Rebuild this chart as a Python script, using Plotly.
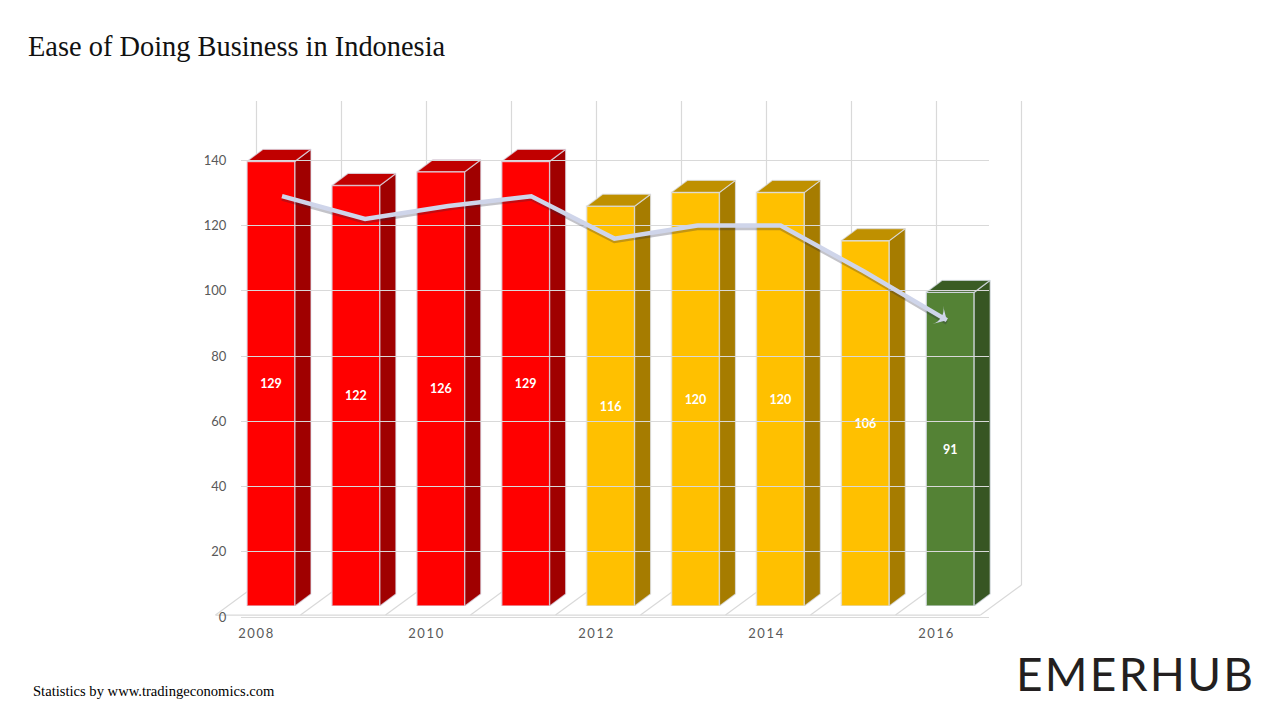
import plotly.graph_objects as go

years = [2008, 2009, 2010, 2011, 2012, 2013, 2014, 2015, 2016]
ranks = [129, 122, 126, 129, 116, 120, 120, 106, 91]
groups = ["red", "red", "red", "red", "amber", "amber", "amber", "amber", "green"]
y_ticks = [0, 20, 40, 60, 80, 100, 120, 140]
x_label_years = [2008, 2010, 2012, 2014, 2016]

FRONT = {"red": "#FF0000", "amber": "#FFC000", "green": "#548235"}
TOP = {"red": "#C00000", "amber": "#BF9000", "green": "#3A5C24"}
SIDE = {"red": "#A00000", "amber": "#A67C00", "green": "#375623"}
EDGE = "rgba(222,226,238,0.72)"
GRID = "#D9D9D9"
TICK = "#595959"
LINE = "#CFD5EA"


def hx(a, b):
    return [a / 1280, b / 1280]


def vy(top, bottom):
    return [1 - bottom / 720, 1 - top / 720]


WALL_STEP, WALL_X0 = 85.0, 256.5
BAR_STEP, BAR_X0 = 84.9, 271.0
LINE_STEP, LINE_X0 = 83.1, 282.0
AX_SCALE = 3.262       # px per unit on the printed axis
BAR_SCALE = 3.447      # px per unit on the bars' front plane
BAR_WIDTH = 48 / BAR_STEP
DEPTH_X = 16 / BAR_STEP
DEPTH_Y = 12 / BAR_SCALE
FLOOR = 32 / AX_SCALE
SKEW = 41 / WALL_STEP
WALL_TOP = (617 - 101) / AX_SCALE

fig = go.Figure()

# back wall and floor
wall_x, wall_y = [], []
for yr in range(years[0], years[-1] + 2):
    wall_x += [yr, yr, None, yr - SKEW, yr, None]
    wall_y += [WALL_TOP, FLOOR, None, 0.6, FLOOR, None]
wall_x += [years[0] - SKEW, years[-1] + 1 - SKEW]
wall_y += [0.6, 0.6]
fig.add_trace(go.Scatter(x=wall_x, y=wall_y, mode="lines", xaxis="x", yaxis="y",
                         line=dict(color=GRID, width=1.2), hoverinfo="skip", showlegend=False))

# bars
fig.add_trace(go.Bar(
    x=years, y=ranks, width=BAR_WIDTH, xaxis="x2", yaxis="y2",
    marker=dict(color=[FRONT[g] for g in groups], line=dict(color=EDGE, width=1.6)),
    text=[str(v) for v in ranks], textposition="inside", insidetextanchor="middle", textangle=0,
    insidetextfont=dict(family="Lato", size=12.5, color="white", weight="bold"),
    showlegend=False,
))
for yr, v, g in zip(years, ranks, groups):
    l, r = yr - BAR_WIDTH / 2, yr + BAR_WIDTH / 2
    fig.add_trace(go.Scatter(
        x=[r, r + DEPTH_X, r + DEPTH_X, r, r], y=[0, DEPTH_Y, v + DEPTH_Y, v, 0],
        mode="lines", fill="toself", fillcolor=SIDE[g], line=dict(color=EDGE, width=1.2),
        xaxis="x2", yaxis="y2", hoverinfo="skip", showlegend=False))
    fig.add_trace(go.Scatter(
        x=[l, l + DEPTH_X, r + DEPTH_X, r, l], y=[v, v + DEPTH_Y, v + DEPTH_Y, v, v],
        mode="lines", fill="toself", fillcolor=TOP[g], line=dict(color=EDGE, width=1.2),
        xaxis="x2", yaxis="y2", hoverinfo="skip", showlegend=False))

# trend line with shadow and arrow head
fig.add_trace(go.Scatter(x=years, y=[v - 0.8 for v in ranks], mode="lines", xaxis="x3", yaxis="y3",
                         line=dict(color="rgba(40,40,60,0.28)", width=4), hoverinfo="skip", showlegend=False))
fig.add_trace(go.Scatter(
    x=years, y=ranks, mode="lines+markers", xaxis="x3", yaxis="y3",
    line=dict(color=LINE, width=4.5),
    marker=dict(symbol="arrow-wide", angleref="previous", color=LINE, line=dict(width=0),
                size=[0] * (len(years) - 1) + [15], opacity=1),
    showlegend=False))

axis_off = dict(showgrid=False, zeroline=False, showline=False, showticklabels=False, ticks="", automargin=False)

fig.update_layout(
    width=1280, height=720, autosize=False, margin=dict(l=0, r=0, t=0, b=0),
    paper_bgcolor="white", plot_bgcolor="rgba(0,0,0,0)", showlegend=False,
    font=dict(family="Lato", color=TICK),
    # wall: carries the year labels
    xaxis=dict(domain=hx(200, 1060), range=[years[0] + (200 - WALL_X0) / WALL_STEP, years[0] + (1060 - WALL_X0) / WALL_STEP],
               anchor="y", automargin=False, showgrid=False, zeroline=False, showline=False, tickmode="array",
               tickvals=x_label_years, ticktext=[str(y) for y in x_label_years], ticks="outside", ticklen=4,
               tickcolor="rgba(0,0,0,0)", tickfont=dict(family="Lato", size=13, color=TICK)),
    yaxis=dict(domain=vy(101, 617), range=[0, WALL_TOP], anchor="x", **axis_off),
    # bars
    xaxis2=dict(domain=hx(200, 1060), range=[years[0] + (200 - BAR_X0) / BAR_STEP, years[0] + (1060 - BAR_X0) / BAR_STEP],
                anchor="y2", **axis_off),
    yaxis2=dict(domain=vy(101, 606), range=[0, (606 - 101) / BAR_SCALE], anchor="x2", **axis_off),
    # printed axis, horizontal grid and trend line
    xaxis3=dict(domain=hx(241, 989), range=[years[0] + (241 - LINE_X0) / LINE_STEP, years[0] + (989 - LINE_X0) / LINE_STEP],
                anchor="y3", **axis_off),
    yaxis3=dict(domain=vy(101, 617), range=[0, WALL_TOP], anchor="x3", automargin=False, tickmode="array", tickvals=y_ticks,
                showgrid=True, gridcolor=GRID, gridwidth=1.2, zeroline=True, zerolinecolor=GRID, zerolinewidth=1.2,
                showline=False, ticks="outside", ticklen=11, tickcolor="rgba(0,0,0,0)",
                tickfont=dict(family="Lato", size=13, color=TICK)),
    annotations=[
        dict(text="Ease of Doing Business in Indonesia", x=26 / 1280, y=1 - 47 / 720, xref="paper", yref="paper",
             xanchor="left", yanchor="middle", showarrow=False,
             font=dict(family="Liberation Serif", size=28.4, color="#111111")),
        dict(text="Statistics by www.tradingeconomics.com", x=31 / 1280, y=1 - 691 / 720, xref="paper", yref="paper",
             xanchor="left", yanchor="middle", showarrow=False,
             font=dict(family="Liberation Serif", size=14.6, color="#000000")),
        dict(text="EMERHUB", x=1022 / 1280, y=1 - 673.5 / 720, xref="paper", yref="paper",
             xanchor="left", yanchor="middle", showarrow=False,
             font=dict(family="Lato", size=46, color="#231F20")),
    ],
)

post = """
document.body.style.margin = '0';
document.querySelectorAll('.xtick text').forEach(function (t) { t.style.letterSpacing = '1.6px'; });
document.querySelectorAll('.annotation-text').forEach(function (t) {
  if (t.textContent === 'EMERHUB') { t.style.letterSpacing = '2.3px'; }
});
"""
fig.write_html("out.html", post_script=post, config={"displayModeBar": False})
